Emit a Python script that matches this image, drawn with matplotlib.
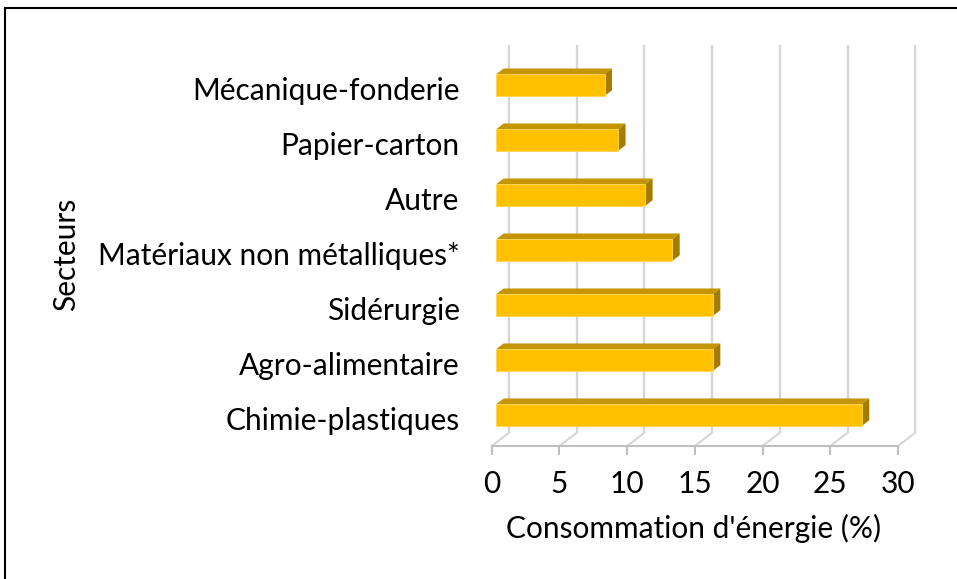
import matplotlib
matplotlib.use("Agg")
import matplotlib.pyplot as plt
from matplotlib.lines import Line2D
from matplotlib.patches import Polygon, Rectangle

SECTORS = [
    "Chimie-plastiques",
    "Agro-alimentaire",
    "Sidérurgie",
    "Matériaux non métalliques*",
    "Autre",
    "Papier-carton",
    "Mécanique-fonderie",
]
SHARES = [27, 16, 16, 13, 11, 9, 8]
XTICKS = [0, 5, 10, 15, 20, 25, 30]

FRONT = "#FFC000"
TOP = "#C49500"
SIDE = "#A47C00"
GRID = "#D6D6D6"
FLOOR = "#BFBFBF"

# fake 3d: offset of the back wall in data units, bar depth as fraction of it
DX, DY = 1.277, 0.242
D0, D1 = 0.27, 0.69
BAR_H = 0.395

plt.rcParams["font.family"] = ["Lato", "DejaVu Sans"]
FS = 21.5

W, H = 957, 579
fig = plt.figure(figsize=(W / 100, H / 100), dpi=100)
ax = fig.add_axes([491.7 / W, (H - 446) / H, 406.3 / W, 387.7 / H])
ax.set_xlim(0, 30)
ax.set_ylim(-0.5, 6.55)

y_floor = -0.5
y_top = 6.55

# back wall gridlines and floor diagonals
for t in XTICKS:
    ax.plot([t + DX, t + DX], [y_floor + DY, y_top + DY], color=GRID, lw=1.7,
            clip_on=False, zorder=1, solid_capstyle="butt")
    ax.plot([t, t + DX], [y_floor, y_floor + DY], color=GRID, lw=1.5,
            clip_on=False, zorder=1)

ddx = (D1 - D0) * DX
ddy = (D1 - D0) * DY
for i, v in enumerate(SHARES):
    x0 = D0 * DX
    x1 = v + D0 * DX
    y0 = i - BAR_H / 2 + D0 * DY
    y1 = y0 + BAR_H
    ax.add_patch(Polygon([(x0, y1), (x1, y1), (x1 + ddx, y1 + ddy), (x0 + ddx, y1 + ddy)],
                         closed=True, fc=TOP, ec="none", zorder=3, clip_on=False))
    ax.add_patch(Polygon([(x1, y0), (x1, y1), (x1 + ddx, y1 + ddy), (x1 + ddx, y0 + ddy)],
                         closed=True, fc=SIDE, ec="none", zorder=3, clip_on=False))
    ax.add_patch(Rectangle((x0, y0), v, BAR_H, fc=FRONT, ec="#FFD54F", lw=0.6,
                           zorder=4, clip_on=False))

for side in ["top", "left", "right"]:
    ax.spines[side].set_visible(False)
ax.spines["bottom"].set_color(FLOOR)
ax.spines["bottom"].set_linewidth(1.5)

ax.set_xticks(XTICKS)
ax.set_xticklabels([str(t) for t in XTICKS], fontsize=FS)
ax.tick_params(axis="x", length=6.5, width=1.5, color=FLOOR, pad=11)
ax.set_yticks(range(len(SECTORS)))
ax.set_yticklabels(SECTORS, fontsize=FS)
ax.tick_params(axis="y", length=0, pad=23)

ax.set_xlabel("Consommation d'énergie (%)", fontsize=FS, va="center")
ax.xaxis.set_label_coords(0.497, -0.2115)
ax.set_ylabel("Secteurs", fontsize=FS, va="center")
ax.yaxis.set_label_coords(-1.048, 0.495)

# outer frame (only left and top edges are in the picture)
fig.add_artist(Line2D([5 / W, 5 / W], [0, (H - 8) / H], color="black", lw=1.5))
fig.add_artist(Line2D([5 / W, 1], [(H - 8) / H, (H - 8) / H], color="black", lw=1.5))

fig.savefig("out.png", dpi=100)
